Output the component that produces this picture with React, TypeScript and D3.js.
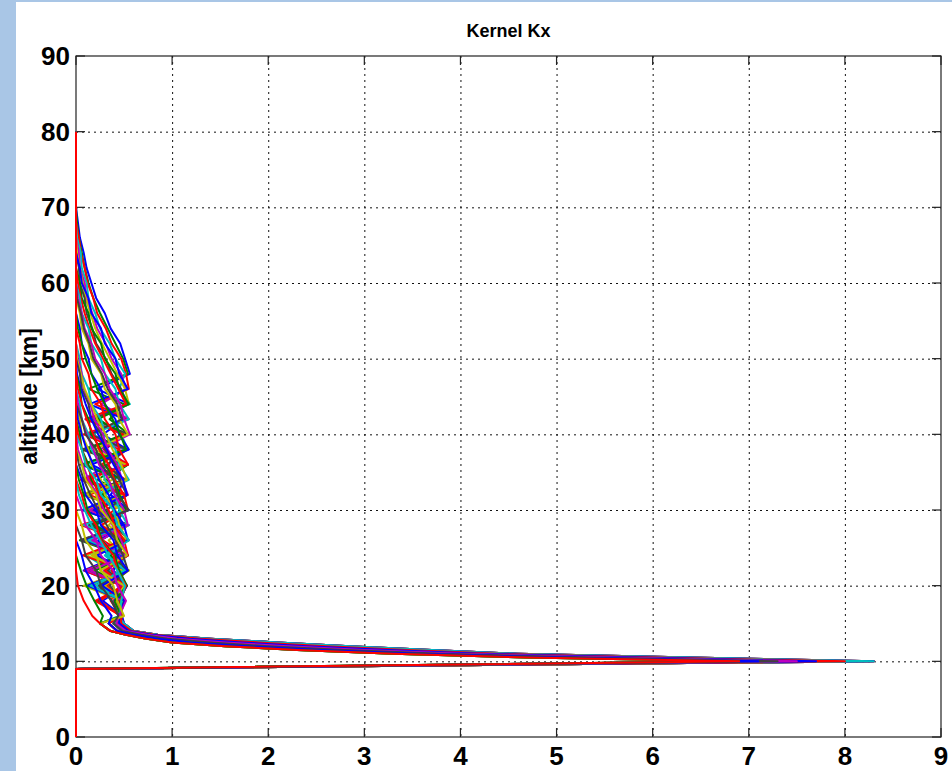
import React, { useEffect, useRef } from "react";
import * as d3 from "d3";

// altitude levels [km] for the upper part of every kernel (top -> 16 km)
const ALT_BODY = [80, 70, 68, 66, 64, 62, 60, 58, 56, 54, 52, 50, 48, 46, 44, 42, 40, 38, 36, 34, 32, 30, 28, 26, 24, 22, 20, 18, 16];
// altitude levels [km] for the lower part (the sweep into the 10 km peak)
const ALT_TAIL = [15, 14, 13.5, 13, 12.5, 12, 11.5, 11, 10.5, 10, 9, 0];

// kernel values on ALT_BODY, one row per kernel
const BODY: number[][] = [
  [0, 0, .02, .04, .08, .11, .16, .21, .30, .36, .46, .51, .56, .22, .55, .10, .52, .30, .54, .06, .50, .18, .55, .25, .51, .12, .50, .28, .48],
  [0, 0, .01, .03, .06, .09, .13, .18, .25, .33, .41, .49, .54, .13, .50, .35, .55, .09, .48, .22, .53, .16, .51, .04, .47, .30, .52, .46, .47],
  [0, 0, 0, .03, .05, .09, .12, .18, .22, .31, .37, .47, .52, .55, .20, .53, .08, .45, .27, .52, .14, .53, .05, .49, .32, .52, .16, .50, .46],
  [0, 0, 0, .01, .05, .06, .11, .13, .20, .25, .35, .41, .51, .45, .56, .15, .47, .54, .09, .51, .30, .48, .21, .54, .11, .36, .51, .24, .47],
  [0, 0, 0, 0, .03, .04, .09, .11, .17, .22, .31, .37, .47, .52, .26, .55, .12, .50, .34, .07, .54, .20, .49, .15, .52, .38, .47, .49, .44],
  [0, 0, 0, 0, .01, .04, .07, .10, .15, .20, .27, .35, .43, .51, .55, .21, .52, .12, .50, .38, .07, .53, .27, .49, .10, .55, .33, .48, .45],
  [0, 0, 0, 0, 0, .03, .04, .09, .11, .17, .21, .31, .37, .47, .53, .18, .55, .06, .51, .30, .49, .24, .53, .10, .48, .33, .52, .22, .48],
  [0, 0, 0, 0, 0, .04, .06, .13, .16, .26, .30, .41, .45, .54, .14, .50, .28, .53, .05, .47, .36, .55, .19, .50, .45, .08, .50, .47, .45],
  [0, 0, 0, 0, 0, 0, .04, .06, .13, .16, .26, .30, .41, .45, .55, .23, .49, .11, .54, .31, .50, .07, .51, .26, .35, .53, .14, .49, .47],
  [0, 0, 0, 0, 0, 0, .02, .05, .09, .14, .20, .28, .36, .44, .52, .10, .49, .29, .54, .05, .50, .24, .46, .17, .52, .37, .48, .25, .46],
  [0, 0, 0, 0, 0, 0, 0, .04, .06, .13, .16, .26, .30, .41, .45, .55, .17, .51, .09, .48, .27, .52, .13, .50, .31, .49, .21, .50, .44],
  [0, 0, 0, 0, 0, 0, 0, .02, .06, .09, .16, .20, .30, .35, .46, .50, .56, .25, .50, .12, .53, .31, .47, .06, .52, .29, .46, .39, .46],
  [0, 0, 0, 0, 0, 0, 0, 0, .04, .06, .13, .16, .26, .30, .41, .45, .54, .19, .52, .29, .50, .10, .54, .34, .48, .17, .51, .45, .48],
  [0, 0, 0, 0, 0, 0, 0, .01, .05, .08, .14, .18, .27, .33, .43, .48, .15, .53, .32, .49, .09, .51, .40, .55, .20, .47, .13, .49, .47],
  [0, 0, 0, 0, 0, 0, 0, 0, 0, .04, .06, .13, .16, .26, .30, .41, .45, .55, .16, .49, .44, .07, .52, .23, .33, .50, .12, .48, .46],
  [0, 0, 0, 0, 0, 0, 0, 0, 0, .02, .06, .10, .16, .22, .30, .38, .46, .52, .06, .50, .27, .54, .14, .48, .36, .51, .28, .45, .46],
  [0, 0, 0, 0, 0, 0, 0, 0, 0, 0, .04, .06, .13, .16, .26, .30, .41, .45, .54, .11, .51, .40, .18, .28, .53, .09, .47, .36, .47],
  [0, 0, 0, 0, 0, 0, 0, 0, 0, 0, 0, .04, .06, .13, .16, .26, .30, .41, .45, .55, .21, .50, .08, .52, .30, .49, .26, .50, .45],
  [0, 0, 0, 0, 0, 0, 0, 0, 0, 0, 0, .02, .06, .08, .15, .19, .28, .33, .43, .48, .54, .14, .51, .26, .47, .11, .53, .44, .46],
  [0, 0, 0, 0, 0, 0, 0, 0, 0, 0, 0, .01, .05, .09, .16, .22, .31, .38, .47, .53, .10, .49, .34, .52, .19, .55, .08, .47, .45],
  [0, 0, 0, 0, 0, 0, 0, 0, 0, 0, 0, 0, .04, .06, .13, .16, .26, .30, .41, .45, .53, .32, .49, .06, .54, .29, .48, .43, .47],
  [0, 0, 0, 0, 0, 0, 0, 0, 0, 0, 0, 0, .01, .05, .10, .16, .23, .32, .39, .49, .53, .19, .50, .11, .48, .39, .53, .44, .46],
  [0, 0, 0, 0, 0, 0, 0, 0, 0, 0, 0, 0, 0, .04, .06, .13, .16, .26, .30, .41, .45, .54, .18, .51, .43, .15, .52, .45, .46],
  [0, 0, 0, 0, 0, 0, 0, 0, 0, 0, 0, 0, 0, .02, .06, .11, .18, .24, .34, .40, .50, .54, .26, .50, .07, .52, .32, .49, .44],
  [0, 0, 0, 0, 0, 0, 0, 0, 0, 0, 0, 0, 0, 0, .04, .06, .13, .16, .26, .30, .41, .45, .54, .13, .50, .46, .22, .50, .44],
  [0, 0, 0, 0, 0, 0, 0, 0, 0, 0, 0, 0, 0, 0, .02, .06, .11, .18, .24, .34, .40, .50, .54, .17, .51, .29, .48, .40, .46],
  [0, 0, 0, 0, 0, 0, 0, 0, 0, 0, 0, 0, 0, 0, 0, .04, .06, .13, .16, .26, .30, .41, .45, .53, .16, .49, .30, .48, .45],
  [0, 0, 0, 0, 0, 0, 0, 0, 0, 0, 0, 0, 0, 0, 0, .06, .10, .21, .26, .39, .43, .55, .14, .50, .41, .52, .24, .37, .47],
  [0, 0, 0, 0, 0, 0, 0, 0, 0, 0, 0, 0, 0, 0, 0, .02, .06, .11, .18, .24, .34, .40, .50, .54, .22, .53, .12, .49, .45],
  [0, 0, 0, 0, 0, 0, 0, 0, 0, 0, 0, 0, 0, 0, 0, 0, .04, .06, .13, .16, .26, .30, .41, .45, .54, .20, .50, .45, .46],
  [0, 0, 0, 0, 0, 0, 0, 0, 0, 0, 0, 0, 0, 0, 0, 0, .02, .06, .11, .18, .24, .34, .40, .50, .54, .30, .51, .20, .47],
  [0, 0, 0, 0, 0, 0, 0, 0, 0, 0, 0, 0, 0, 0, 0, 0, 0, .06, .10, .21, .26, .39, .43, .55, .33, .51, .15, .49, .45],
  [0, 0, 0, 0, 0, 0, 0, 0, 0, 0, 0, 0, 0, 0, 0, 0, 0, .02, .07, .13, .22, .29, .38, .47, .53, .15, .50, .43, .46],
  [0, 0, 0, 0, 0, 0, 0, 0, 0, 0, 0, 0, 0, 0, 0, 0, 0, 0, .06, .10, .21, .26, .39, .43, .53, .25, .50, .41, .46],
  [0, 0, 0, 0, 0, 0, 0, 0, 0, 0, 0, 0, 0, 0, 0, 0, 0, 0, .03, .08, .15, .23, .32, .41, .49, .54, .35, .50, .45],
  [0, 0, 0, 0, 0, 0, 0, 0, 0, 0, 0, 0, 0, 0, 0, 0, 0, 0, 0, .06, .10, .21, .26, .39, .43, .54, .27, .51, .44],
  [0, 0, 0, 0, 0, 0, 0, 0, 0, 0, 0, 0, 0, 0, 0, 0, 0, 0, 0, .03, .08, .12, .22, .27, .40, .45, .53, .40, .47],
  [0, 0, 0, 0, 0, 0, 0, 0, 0, 0, 0, 0, 0, 0, 0, 0, 0, 0, 0, 0, .06, .10, .21, .26, .39, .43, .52, .46, .48],
  [0, 0, 0, 0, 0, 0, 0, 0, 0, 0, 0, 0, 0, 0, 0, 0, 0, 0, 0, 0, .03, .09, .16, .25, .34, .43, .51, .47, .46],
  [0, 0, 0, 0, 0, 0, 0, 0, 0, 0, 0, 0, 0, 0, 0, 0, 0, 0, 0, 0, 0, .06, .10, .21, .26, .39, .43, .52, .45],
  [0, 0, 0, 0, 0, 0, 0, 0, 0, 0, 0, 0, 0, 0, 0, 0, 0, 0, 0, 0, 0, 0, .06, .10, .21, .26, .39, .43, .50],
  [0, 0, 0, 0, 0, 0, 0, 0, 0, 0, 0, 0, 0, 0, 0, 0, 0, 0, 0, 0, 0, 0, 0, .06, .10, .21, .26, .37, .44],
  [0, 0, 0, 0, 0, 0, 0, 0, 0, 0, 0, 0, 0, 0, 0, 0, 0, 0, 0, 0, 0, 0, 0, 0, .06, .10, .19, .26, .37],
  [0, 0, 0, 0, 0, 0, 0, 0, 0, 0, 0, 0, 0, 0, 0, 0, 0, 0, 0, 0, 0, 0, 0, 0, 0, .05, .11, .19, .28],
  [0, 0, 0, 0, 0, 0, 0, 0, 0, 0, 0, 0, 0, 0, 0, 0, 0, 0, 0, 0, 0, 0, 0, 0, 0, 0, .02, .08, .17],
];

// kernel values on ALT_TAIL (upper edge of the band -> lower edge)
const TAILS: number[][] = [
  [.50, .60, .85, 1.4, 2.1, 2.85, 3.7, 4.6, 6.4, 8.3, 0, 0],
  [.47, .58, .82, 1.3, 1.9, 2.6, 3.45, 4.4, 6.1, 8.0, 0, 0],
  [.45, .55, .78, 1.18, 1.72, 2.4, 3.25, 4.2, 5.85, 7.7, 0, 0],
  [.42, .52, .74, 1.05, 1.55, 2.2, 3.0, 4.0, 5.6, 7.5, 0, 0],
  [.39, .48, .68, .95, 1.4, 2.0, 2.8, 3.8, 5.35, 7.3, 0, 0],
  [.34, .43, .60, .85, 1.2, 1.78, 2.55, 3.55, 5.05, 7.1, 0, 0],
  [.25, .36, .52, .72, 1.0, 1.55, 2.3, 3.3, 4.7, 6.9, 0, 0],
];
// which tail each kernel row follows
const TAIL_OF = [
  0, 1, 0, 2, 1, 0, 3, 2, 1, 0,
  4, 3, 2, 1, 0, 5, 4, 3, 2, 1,
  5, 4, 3, 2, 0, 6, 5, 4, 3, 2,
  1, 6, 5, 4, 3, 2, 6, 5, 4, 3,
  6, 4, 5, 6, 6,
];

const X_TICKS = [0, 1, 2, 3, 4, 5, 6, 7, 8, 9];
const Y_TICKS = [0, 10, 20, 30, 40, 50, 60, 70, 80, 90];

// old MATLAB line colour order
const COLORS = ["#0000ff", "#008000", "#ff0000", "#00bfbf", "#bf00bf", "#bfbf00", "#404040"];

const FONT = "'Liberation Sans', Arial, Helvetica, sans-serif";

const App: React.FC = () => {
  const svgRef = useRef<SVGSVGElement>(null);

  useEffect(() => {
    if (!svgRef.current) return;
    const svg = d3.select(svgRef.current);
    svg.selectAll("*").remove();

    const width = 952;
    const height = 771;
    const margin = { top: 56, right: 11, bottom: 34, left: 76 };

    const x = d3.scaleLinear().domain([0, 9]).range([margin.left, width - margin.right]);
    const y = d3.scaleLinear().domain([0, 90]).range([height - margin.bottom, margin.top]);

    // page background with the light blue frame
    svg.append("rect").attr("width", width).attr("height", height).attr("fill", "#a9c6e6");
    svg.append("rect").attr("x", 16).attr("y", 2).attr("width", width - 16).attr("height", height - 2).attr("fill", "#ffffff");

    // grid
    const grid = svg.append("g").attr("stroke", "#111").attr("stroke-width", 1).attr("stroke-dasharray", "2,4");
    grid.selectAll("line.gx")
      .data(X_TICKS.slice(1, -1))
      .join("line")
      .attr("class", "gx")
      .attr("x1", (d) => x(d) + 0.5)
      .attr("x2", (d) => x(d) + 0.5)
      .attr("y1", y(90))
      .attr("y2", y(0));
    grid.selectAll("line.gy")
      .data(Y_TICKS.slice(1, -1))
      .join("line")
      .attr("class", "gy")
      .attr("x1", x(0))
      .attr("x2", x(9))
      .attr("y1", (d) => y(d) + 0.5)
      .attr("y2", (d) => y(d) + 0.5);

    // box and inward ticks
    const ax = svg.append("g").attr("stroke", "#222").attr("stroke-width", 1.2).attr("fill", "none");
    ax.append("rect")
      .attr("x", x(0))
      .attr("y", y(90))
      .attr("width", x(9) - x(0))
      .attr("height", y(0) - y(90));
    const tl = 9;
    X_TICKS.forEach((t) => {
      ax.append("line").attr("x1", x(t)).attr("x2", x(t)).attr("y1", y(0)).attr("y2", y(0) - tl);
      ax.append("line").attr("x1", x(t)).attr("x2", x(t)).attr("y1", y(90)).attr("y2", y(90) + tl);
    });
    Y_TICKS.forEach((t) => {
      ax.append("line").attr("x1", x(0)).attr("x2", x(0) + tl).attr("y1", y(t)).attr("y2", y(t));
      ax.append("line").attr("x1", x(9)).attr("x2", x(9) - tl).attr("y1", y(t)).attr("y2", y(t));
    });

    // kernels
    const line = d3
      .line<[number, number]>()
      .x((d) => x(d[0]))
      .y((d) => y(d[1]))
      .curve(d3.curveLinear);

    const kernels = BODY.map((row, i) => {
      const pts: [number, number][] = ALT_BODY.map((a, k) => [row[k], a]);
      const tail = TAILS[TAIL_OF[i]];
      ALT_TAIL.forEach((a, k) => pts.push([tail[k], a]));
      return pts;
    });

    svg.append("g")
      .attr("fill", "none")
      .attr("stroke-width", 2)
      .attr("stroke-linejoin", "round")
      .selectAll("path")
      .data(kernels)
      .join("path")
      .attr("stroke", (_, i) => COLORS[i % COLORS.length])
      .attr("d", (d) => line(d));

    // tick labels
    const lab = svg.append("g")
      .attr("font-family", FONT)
      .attr("font-weight", "bold")
      .attr("font-size", 26)
      .attr("fill", "#000");
    lab.selectAll("text.xt")
      .data(X_TICKS)
      .join("text")
      .attr("class", "xt")
      .attr("x", (d) => x(d))
      .attr("y", 765)
      .attr("text-anchor", "middle")
      .text((d) => String(d));
    lab.selectAll("text.yt")
      .data(Y_TICKS)
      .join("text")
      .attr("class", "yt")
      .attr("x", x(0) - 6)
      .attr("y", (d) => y(d) + 9)
      .attr("text-anchor", "end")
      .text((d) => String(d));

    // axis label and title
    svg.append("text")
      .attr("transform", `translate(37, ${(y(0) + y(90)) / 2}) rotate(-90)`)
      .attr("text-anchor", "middle")
      .attr("font-family", FONT)
      .attr("font-weight", "bold")
      .attr("font-size", 23)
      .text("altitude [km]");

    svg.append("text")
      .attr("x", (x(0) + x(9)) / 2)
      .attr("y", 37)
      .attr("text-anchor", "middle")
      .attr("font-family", FONT)
      .attr("font-weight", "bold")
      .attr("font-size", 18)
      .text("Kernel Kx");
  }, []);

  return (
    <svg
      ref={svgRef}
      width={952}
      height={771}
      style={{ position: "absolute", left: 0, top: 0, display: "block" }}
    />
  );
};

export default App;
